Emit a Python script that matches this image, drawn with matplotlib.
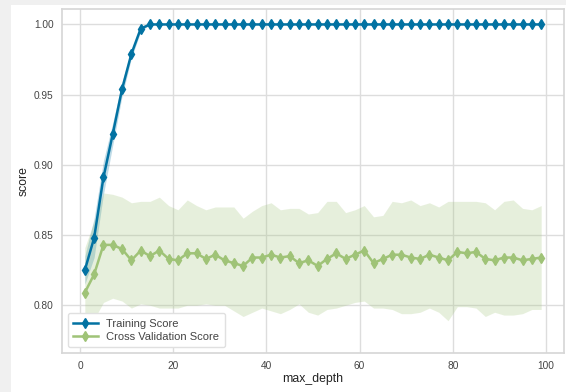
import numpy as np
import matplotlib
matplotlib.use("Agg")
import matplotlib.pyplot as plt
from matplotlib.patches import Rectangle

# ---------------------------------------------------------
# data (validation curve, max_depth = 1, 3, ..., 99)
# ---------------------------------------------------------
max_depth = list(range(1, 100, 2))

train_mean = [0.825, 0.848, 0.891, 0.922, 0.954, 0.979, 0.997] + [1.0] * 43
train_std = [0.010, 0.014, 0.012, 0.008, 0.005, 0.003, 0.002] + [0.0] * 43

cv_mean = [0.809, 0.822, 0.843, 0.843, 0.840, 0.832, 0.839, 0.835, 0.839, 0.833,
           0.832, 0.837, 0.837, 0.833, 0.836, 0.832, 0.830, 0.828, 0.834, 0.834,
           0.836, 0.834, 0.835, 0.830, 0.832, 0.828, 0.833, 0.837, 0.833, 0.836,
           0.839, 0.830, 0.833, 0.836, 0.836, 0.834, 0.833, 0.836, 0.834, 0.832,
           0.838, 0.837, 0.838, 0.833, 0.832, 0.834, 0.834, 0.832, 0.833, 0.834]

cv_upper = [0.841, 0.860, 0.880, 0.879, 0.877, 0.873, 0.874, 0.874, 0.877, 0.871,
            0.868, 0.875, 0.871, 0.868, 0.870, 0.870, 0.870, 0.862, 0.867, 0.871,
            0.873, 0.868, 0.869, 0.869, 0.865, 0.866, 0.874, 0.874, 0.866, 0.868,
            0.871, 0.863, 0.864, 0.874, 0.873, 0.875, 0.871, 0.873, 0.870, 0.874,
            0.874, 0.874, 0.874, 0.873, 0.868, 0.874, 0.875, 0.869, 0.868, 0.871]

cv_lower = [0.777, 0.790, 0.802, 0.805, 0.803, 0.798, 0.801, 0.800, 0.798, 0.798,
            0.798, 0.800, 0.800, 0.801, 0.800, 0.800, 0.796, 0.792, 0.795, 0.798,
            0.796, 0.794, 0.797, 0.801, 0.795, 0.793, 0.797, 0.798, 0.800, 0.802,
            0.803, 0.798, 0.798, 0.797, 0.794, 0.794, 0.795, 0.798, 0.795, 0.789,
            0.799, 0.799, 0.798, 0.792, 0.795, 0.793, 0.793, 0.794, 0.797, 0.797]

# ---------------------------------------------------------
# style
# ---------------------------------------------------------
plt.rcParams['font.family'] = ['Liberation Sans', 'DejaVu Sans']
blue = "#0272a2"
green = "#9fc377"
text_c = "#444444"

fig = plt.figure(figsize=(5.66, 3.92), dpi=100)
fig.patch.set_facecolor("white")
# grey screenshot frame (left and top)
fig.patches.append(Rectangle((0, 0), 11 / 566, 1, transform=fig.transFigure,
                             facecolor="#f0f0f0", edgecolor="none", zorder=-1))
fig.patches.append(Rectangle((0, 1 - 5 / 392), 1, 5 / 392, transform=fig.transFigure,
                             facecolor="#f0f0f0", edgecolor="none", zorder=-1))

ax = fig.add_axes([62 / 566, 1 - 353 / 392, 502 / 566, 344 / 392])
ax.set_facecolor("white")

x = np.array(max_depth)
tm = np.array(train_mean)
ts = np.array(train_std)

ax.fill_between(x, tm - ts, tm + ts, color=blue, alpha=0.25, lw=0)
ax.fill_between(x, cv_lower, cv_upper, color=green, alpha=0.25, lw=0)
ax.plot(x, tm, marker='d', color=blue, lw=1.8, ms=5.5, label='Training Score')
ax.plot(x, cv_mean, marker='d', color=green, lw=1.8, ms=5.5, label='Cross Validation Score')

ax.set_xlim(-3.9, 103.9)
ax.set_ylim(0.766, 1.011)
ax.set_xticks([0, 20, 40, 60, 80, 100])
ax.set_yticks([0.80, 0.85, 0.90, 0.95, 1.00])
ax.set_yticklabels(["0.80", "0.85", "0.90", "0.95", "1.00"])

ax.grid(True, color="#dddddd", lw=1)
ax.set_axisbelow(True)
for s in ax.spines.values():
    s.set_color("#d6d6d6")
    s.set_linewidth(1.2)
ax.tick_params(length=0, labelsize=7.3, colors=text_c, pad=6)

ax.set_xlabel("max_depth", fontsize=8.8, color="#222222", labelpad=1)
ax.set_ylabel("score", fontsize=8.8, color="#222222", labelpad=3)

leg = ax.legend(loc='lower left', fontsize=8, frameon=True, borderpad=0.5,
                handlelength=2.2, labelspacing=0.3)
leg.get_frame().set_facecolor("white")
leg.get_frame().set_edgecolor("#e0e0e0")
leg.get_frame().set_alpha(1.0)
for t in leg.get_texts():
    t.set_color(text_c)

fig.savefig("out.png", dpi=100)
